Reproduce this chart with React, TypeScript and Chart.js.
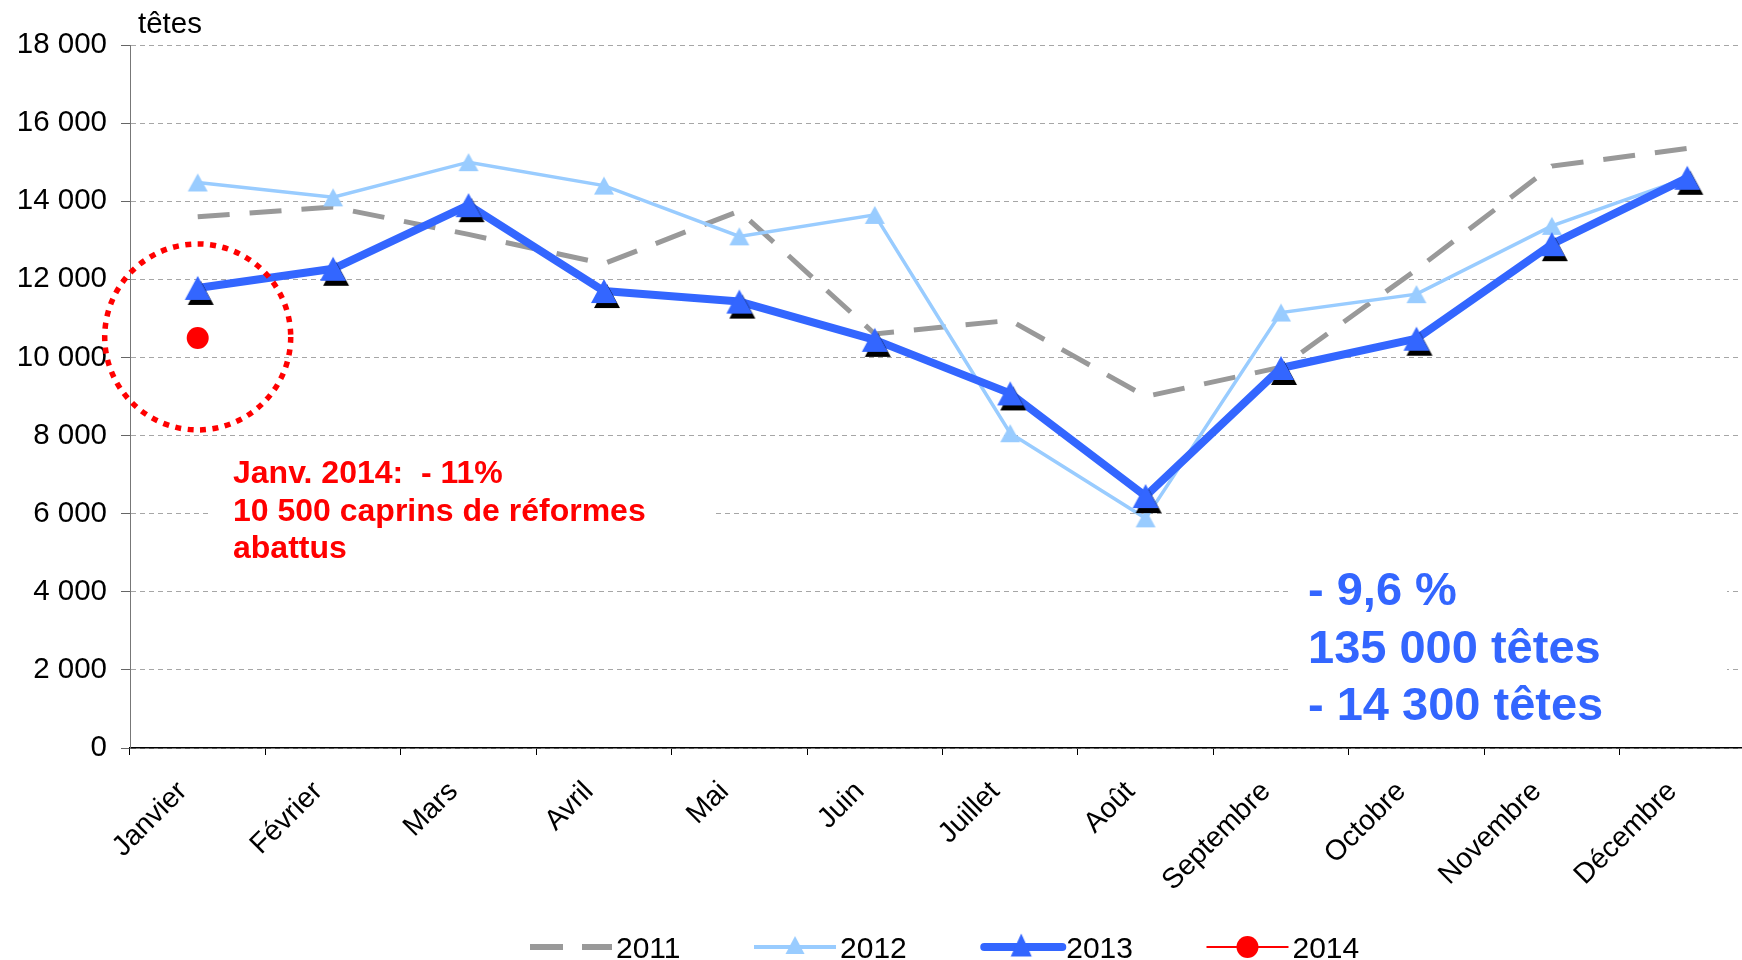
import React, { useEffect, useRef } from 'react';
import { Chart, registerables } from 'chart.js';

Chart.register(...registerables);

// ---------- data ----------
const months = ['Janvier', 'Février', 'Mars', 'Avril', 'Mai', 'Juin', 'Juillet', 'Août', 'Septembre', 'Octobre', 'Novembre', 'Décembre'];
const seriesNames = ['2011', '2012', '2013', '2014'];
const values2011 = [13600, 13850, 13150, 12400, 13750, 10600, 10950, 9000, 9750, 12250, 14900, 15350];
const values2012 = [14480, 14100, 15000, 14400, 13100, 13650, 8060, 5880, 11150, 11620, 13370, 14600];
const values2013 = [11780, 12270, 13900, 11700, 11430, 10450, 9080, 6450, 9730, 10480, 12900, 14600];
const values2014 = [10500, null, null, null, null, null, null, null, null, null, null, null];
const yMin = 0;
const yMax = 18000;
const yStep = 2000;
const unitLabel = 'têtes';
const noteRed = ['Janv. 2014:  - 11%', '10 500 caprins de réformes', 'abattus'];
const noteBlue = ['- 9,6 %', '135 000 têtes', '- 14 300 têtes'];

// ---------- styles ----------
const FONT = '"Liberation Sans", Arial, Helvetica, sans-serif';
const C2011 = '#999999';
const C2012 = '#99ccff';
const C2013 = '#3366ff';
const C2014 = '#ff0000';
const CANVAS_W = 1776;

function formatThousands(v: number): string {
  if (v === 0) return '0';
  const th = Math.floor(v / 1000);
  const rest = String(v % 1000).padStart(3, '0');
  return `${th} ${rest}`;
}

function triangleImage(w: number, h: number, fill: string, shadow?: { dx: number; dy: number; color: string }) {
  const S = 48;
  const c = document.createElement('canvas');
  c.width = S;
  c.height = S;
  const ctx = c.getContext('2d')!;
  const cx = S / 2;
  const cy = S / 2;
  const tri = (ox: number, oy: number, color: string) => {
    ctx.beginPath();
    ctx.moveTo(cx + ox, cy - h / 2 + oy);
    ctx.lineTo(cx + w / 2 + ox, cy + h / 2 + oy);
    ctx.lineTo(cx - w / 2 + ox, cy + h / 2 + oy);
    ctx.closePath();
    ctx.fillStyle = color;
    ctx.fill();
  };
  if (shadow) tri(shadow.dx, shadow.dy, shadow.color);
  tri(0, 0, fill);
  return c;
}

let tri2012Legend: HTMLCanvasElement | null = null;
let tri2013Legend: HTMLCanvasElement | null = null;

const overlayPlugin = {
  id: 'overlay',
  beforeDatasetsDraw(chart: any) {
    const ctx = chart.ctx as CanvasRenderingContext2D;
    ctx.save();
    // white boxes behind the notes (hide grid lines)
    ctx.fillStyle = '#ffffff';
    ctx.fillRect(212, 452, 502, 118);
    ctx.fillRect(1288, 556, 439, 180);
    ctx.textBaseline = 'alphabetic';
    ctx.textAlign = 'left';
    ctx.fillStyle = C2014;
    ctx.font = `bold 32px ${FONT}`;
    noteRed.forEach((t, i) => ctx.fillText(t, 233, 483 + i * 37.5));
    ctx.fillStyle = C2013;
    ctx.font = `bold 47px ${FONT}`;
    noteBlue.forEach((t, i) => ctx.fillText(t, 1308, 605 + i * 57.5));
    ctx.restore();
  },
  afterDatasetsDraw(chart: any) {
    const ctx = chart.ctx as CanvasRenderingContext2D;
    const meta = chart.getDatasetMeta(3);
    const pt = meta && meta.data[0];
    if (!pt) return;
    ctx.save();
    ctx.strokeStyle = C2014;
    ctx.lineWidth = 5.5;
    ctx.setLineDash([6, 6.5]);
    ctx.beginPath();
    ctx.arc(pt.x, pt.y - 1, 93, 0, Math.PI * 2);
    ctx.stroke();
    ctx.restore();
  },
  afterDraw(chart: any) {
    const ctx = chart.ctx as CanvasRenderingContext2D;
    ctx.save();
    // unit label
    ctx.fillStyle = '#000000';
    ctx.font = `29.5px ${FONT}`;
    ctx.textAlign = 'left';
    ctx.textBaseline = 'alphabetic';
    ctx.fillText(unitLabel, 138, 33);

    // legend
    const ly = 947;
    const sampleW = 82;
    let x = 530;
    seriesNames.forEach((name, i) => {
      ctx.save();
      if (i === 0) {
        ctx.strokeStyle = C2011;
        ctx.lineWidth = 6;
        ctx.setLineDash([33, 19]);
        ctx.beginPath();
        ctx.moveTo(x, ly);
        ctx.lineTo(x + sampleW, ly);
        ctx.stroke();
      } else if (i === 1) {
        ctx.strokeStyle = C2012;
        ctx.lineWidth = 4;
        ctx.beginPath();
        ctx.moveTo(x, ly);
        ctx.lineTo(x + sampleW, ly);
        ctx.stroke();
        ctx.drawImage(tri2012Legend!, x + sampleW / 2 - 24, ly - 24 - 2);
      } else if (i === 2) {
        ctx.strokeStyle = C2013;
        ctx.lineWidth = 8;
        ctx.lineCap = 'round';
        ctx.beginPath();
        ctx.moveTo(x + 4, ly);
        ctx.lineTo(x + sampleW, ly);
        ctx.stroke();
        ctx.drawImage(tri2013Legend!, x + sampleW / 2 - 24, ly - 24 - 2);
      } else {
        ctx.strokeStyle = C2014;
        ctx.lineWidth = 2;
        ctx.beginPath();
        ctx.moveTo(x, ly);
        ctx.lineTo(x + sampleW, ly);
        ctx.stroke();
        ctx.fillStyle = C2014;
        ctx.beginPath();
        ctx.arc(x + sampleW / 2, ly, 11, 0, Math.PI * 2);
        ctx.fill();
      }
      ctx.restore();
      ctx.fillStyle = '#000000';
      ctx.font = `30px ${FONT}`;
      ctx.textBaseline = 'alphabetic';
      ctx.fillText(name, x + sampleW + 4, 958);
      const tw = ctx.measureText(name).width;
      x += sampleW + 4 + tw + 73.5;
    });
    ctx.restore();
  },
};

export default function App() {
  const ref = useRef<HTMLCanvasElement | null>(null);

  useEffect(() => {
    if (!ref.current) return;
    const tri2012 = triangleImage(20, 18, C2012);
    const tri2013 = triangleImage(26, 24, C2013, { dx: 3, dy: 5, color: '#000000' });
    tri2012Legend = triangleImage(19, 18, C2012);
    tri2013Legend = triangleImage(21, 23, C2013);

    const chart = new Chart(ref.current, {
      type: 'line',
      data: {
        labels: months,
        datasets: [
          {
            label: seriesNames[0],
            data: values2011,
            borderColor: C2011,
            backgroundColor: C2011,
            borderWidth: 5,
            borderDash: [32, 20],
            borderCapStyle: 'butt',
            pointRadius: 0,
            tension: 0,
            order: 4,
          },
          {
            label: seriesNames[1],
            data: values2012,
            borderColor: C2012,
            backgroundColor: C2012,
            borderWidth: 3.5,
            pointStyle: tri2012 as any,
            pointRadius: 9,
            tension: 0,
            order: 3,
          },
          {
            label: seriesNames[2],
            data: values2013,
            borderColor: C2013,
            backgroundColor: C2013,
            borderWidth: 8,
            borderJoinStyle: 'round',
            pointStyle: tri2013 as any,
            pointRadius: 13,
            tension: 0,
            order: 2,
          },
          {
            label: seriesNames[3],
            data: values2014,
            borderColor: C2014,
            backgroundColor: C2014,
            borderWidth: 2,
            pointStyle: 'circle',
            pointRadius: 11,
            pointBorderWidth: 0,
            tension: 0,
            order: 1,
          },
        ],
      },
      options: {
        responsive: false,
        animation: false,
        devicePixelRatio: 1,
        layout: { padding: { top: 45, left: 0, right: 4, bottom: 0 } },
        plugins: {
          legend: { display: false },
          tooltip: { enabled: false },
          title: { display: false },
        },
        scales: {
          x: {
            type: 'category',
            offset: true,
            afterFit: (scale: any) => {
              scale.height = 212;
              scale.paddingLeft = 0;
              scale.paddingRight = 0;
            },
            grid: {
              display: true,
              offset: true,
              drawOnChartArea: false,
              drawTicks: true,
              tickLength: 7,
              tickColor: '#000000',
              tickWidth: 1,
            },
            border: { display: true, color: '#000000', width: 1.5 },
            ticks: {
              minRotation: 45,
              maxRotation: 45,
              autoSkip: false,
              padding: 20,
              labelOffset: -15,
              color: '#000000',
              font: { family: FONT, size: 28.5 },
            },
          },
          y: {
            min: yMin,
            max: yMax,
            afterFit: (scale: any) => {
              scale.width = 130;
            },
            grid: {
              color: '#a6a6a6',
              lineWidth: 1,
              drawTicks: true,
              tickLength: 9,
              tickColor: '#666666',
              tickBorderDash: [],
            },
            border: { display: true, color: '#777777', width: 1, dash: [5, 4] },
            ticks: {
              stepSize: yStep,
              padding: 14,
              color: '#000000',
              font: { family: FONT, size: 29.5 },
              callback: (v: any) => formatThousands(Number(v)),
            },
          },
        },
      },
      plugins: [overlayPlugin],
    });
    return () => chart.destroy();
  }, []);

  return (
    <div
      style={{
        position: 'fixed',
        left: 0,
        top: 0,
        width: 1742,
        height: 960,
        overflow: 'hidden',
        background: '#ffffff',
      }}
    >
      <canvas ref={ref} width={CANVAS_W} height={960} style={{ width: CANVAS_W, height: 960, display: 'block' }} />
    </div>
  );
}
